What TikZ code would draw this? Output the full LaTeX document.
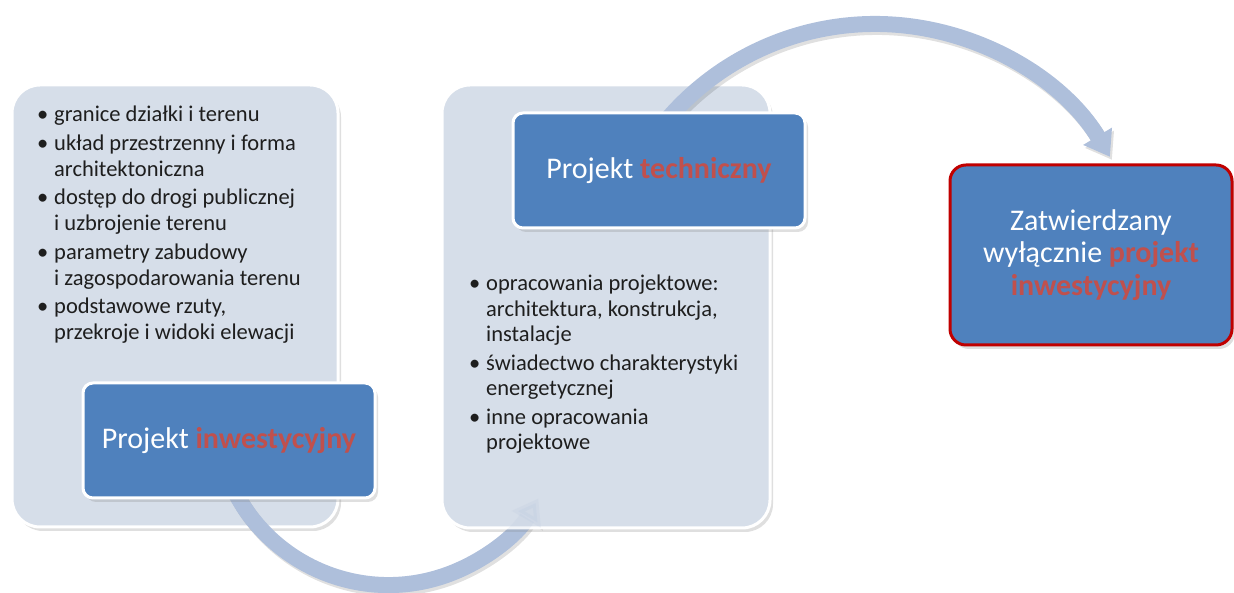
\documentclass[tikz,border=0pt]{standalone}
\usepackage{fontspec}
\setmainfont{Carlito}
\usetikzlibrary{arrows.meta,shadows}
\definecolor{lightbox}{RGB}{214,222,233}
\definecolor{boxblue}{RGB}{79,129,189}
\definecolor{band}{RGB}{174,191,219}
\definecolor{redtxt}{RGB}{192,80,77}
\definecolor{redline}{RGB}{192,0,0}
\definecolor{txt}{RGB}{30,30,30}
\newcommand{\bul}{\makebox[17pt][l]{•}}
\newcommand{\cnt}{\hspace*{17pt}}
\newcommand{\hl}[1]{\textcolor{redtxt}{\bfseries #1}}
\begin{document}
\begin{tikzpicture}[x=1pt,y=1pt,
  softshadow/.style={drop shadow={shadow xshift=3pt,shadow yshift=-4pt,opacity=0.25}},
  panel/.style={draw=white,line width=3pt,fill=lightbox,rounded corners=28pt,inner sep=0pt,softshadow},
  titlebox/.style={draw=white,line width=3pt,fill=boxblue,rounded corners=10pt,inner sep=0pt,
    text=white,font=\fontsize{30}{32.5}\selectfont,align=center,softshadow},
  finalbox/.style={draw=redline,line width=3pt,fill=boxblue,rounded corners=16pt,inner sep=0pt,
    text=white,font=\fontsize{30}{32.5}\selectfont,align=center,softshadow},
  bandarrow/.style={draw=band,line width=16pt,-{Triangle[width=32pt,length=24pt]}},
  bandshadow/.style={draw=black,opacity=0.12,line width=16pt,-{Triangle[width=32pt,length=24pt]},
    transform canvas={shift={(2pt,-3pt)}}},
  listtext/.style={text=txt,inner sep=0pt,anchor=base west}
]
\useasboundingbox (0,0) rectangle (1234,593);

% left panel
\node[panel,minimum width=326pt,minimum height=442pt] (p1) at (175,287) {};

% bottom arrow (over left panel, under right panel)
\coordinate (ba) at (225.9,121.8);
\draw[bandshadow] (ba) arc[start angle=200,end angle=330,radius=173];
\draw[bandarrow] (ba) arc[start angle=200,end angle=330,radius=173];

% right panel
\node[panel,minimum width=328pt,minimum height=443pt] (p2) at (606,286.5) {};
\draw[bandarrow,opacity=0.15] (ba) arc[start angle=200,end angle=330,radius=173];

% top arrow
\coordinate (ta) at (650.6,452.2);
\draw[bandshadow] (ta) arc[start angle=145,end angle=31,radius=274];
\draw[bandarrow] (ta) arc[start angle=145,end angle=31,radius=274];

% title boxes
\node[titlebox,minimum width=292pt,minimum height=115pt] (inw) at (229,152.5)
  {Projekt \hl{inwestycyjny}};
\node[titlebox,minimum width=292pt,minimum height=115pt] (tech) at (659,422.5)
  {Projekt \hl{techniczny}};
\node[finalbox,minimum width=282pt,minimum height=180pt] (fin) at (1091,338)
  {\raisebox{0pt}[\height][\depth]{}Zatwierdzany\\wyłącznie \hl{projekt}\\\hl{inwestycyjny}};

% lists
\node[listtext] (l1) at (37,471) {\fontsize{22.5}{26}\selectfont
  \begin{tabular}[t]{@{}l@{}}
  \bul granice działki i terenu\\[2.5pt]
  \bul układ przestrzenny i forma\\
  \cnt architektoniczna\\[2.5pt]
  \bul dostęp do drogi publicznej\\
  \cnt i uzbrojenie terenu\\[2.5pt]
  \bul parametry zabudowy\\
  \cnt i zagospodarowania terenu\\[2.5pt]
  \bul podstawowe rzuty,\\
  \cnt przekroje i widoki elewacji
  \end{tabular}};
\node[listtext] (l2) at (469,302) {\fontsize{22.5}{25.5}\selectfont
  \begin{tabular}[t]{@{}l@{}}
  \bul opracowania projektowe:\\
  \cnt architektura, konstrukcja,\\
  \cnt instalacje\\[3pt]
  \bul świadectwo charakterystyki\\
  \cnt energetycznej\\[3pt]
  \bul inne opracowania\\
  \cnt projektowe
  \end{tabular}};
\end{tikzpicture}
\end{document}
